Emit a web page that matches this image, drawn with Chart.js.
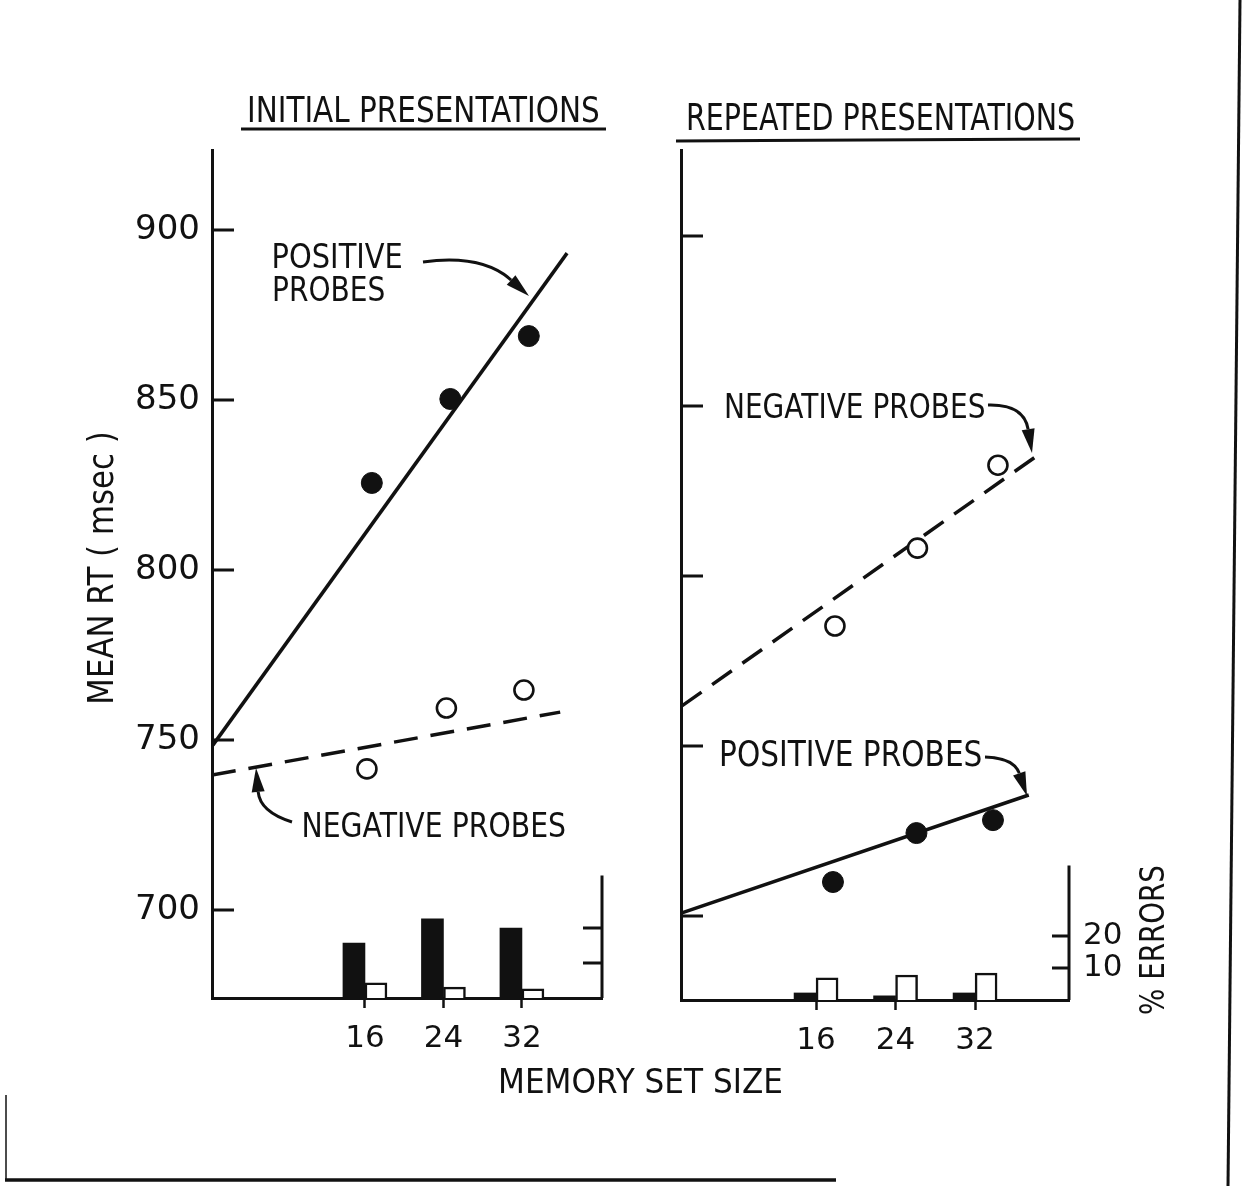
<!DOCTYPE html>
<html><head><meta charset="utf-8">
<script src="https://cdn.jsdelivr.net/npm/chart.js@4.4.1/dist/chart.umd.min.js"></script>
<style>
html,body{margin:0;padding:0;background:#fff;}
body{width:1243px;height:1186px;position:relative;overflow:hidden;font-family:"DejaVu Sans",sans-serif;color:#111;}
canvas{position:absolute;top:0;}
#c1{left:0;} #c2{left:640px;}
.lbl{position:absolute;white-space:nowrap;line-height:1;transform-origin:50% 50%;color:#111;}
svg{position:absolute;left:0;top:0;}
</style></head><body>
<canvas id="c1" width="640" height="1186"></canvas>
<canvas id="c2" width="603" height="1186"></canvas>
<svg id="ov" width="1243" height="1186"></svg>
<script>
// ---------- data ----------
const setSizes = [16, 24, 32];          // memory set size (x tick labels)
const rtTicks = [700, 750, 800, 850, 900];
const errTicks = [10, 20];

// Initial presentations
const initPosX  = [16.7, 24.7, 32.7];
const initPosRT = [825.6, 850.3, 868.8];
const initNegX  = [16.2, 24.3, 32.2];
const initNegRT = [741.5, 759.4, 764.7];
const initPosFitX  = [0.5, 36.6];
const initPosFitRT = [748.5, 893.2];
const initNegFitX  = [0.41, 35.9];
const initNegFitRT = [739.7, 758.2];
const initPosErr = [15.7, 22.6, 20.0];
const initNegErr = [4.3, 3.1, 2.6];

// Repeated presentations
const repPosX  = [17.7, 26.1, 33.8];
const repPosRT = [710.0, 724.4, 728.2];
const repNegX  = [17.9, 26.2, 34.3];
const repNegRT = [785.3, 808.2, 832.6];
const repPosFitX  = [2.5, 37.4];
const repPosFitRT = [700.9, 735.6];
const repNegFitX  = [2.5, 38.2];
const repNegFitRT = [761.8, 835.3];
const repPosErr = [2.2, 1.3, 2.2];
const repNegErr = [6.9, 7.8, 8.4];

// ---------- drawing ----------
const INK = '#111';
const FONT = '"DejaVu Sans", sans-serif';
const pts = (xs, ys) => xs.map((x, i) => ({x: x, y: ys[i]}));

function inwardTicks(items) {
  return {
    id: 'inwardTicks',
    afterDraw(chart) {
      const ctx = chart.ctx, a = chart.chartArea;
      ctx.save(); ctx.strokeStyle = INK; ctx.lineCap = 'butt';
      for (const it of items) {
        const s = chart.scales[it.scale];
        const x = it.side === 'left' ? a.left : a.right;
        ctx.lineWidth = 3;
        ctx.beginPath();
        if (it.line) { ctx.moveTo(x, s.getPixelForValue(it.line[0])); ctx.lineTo(x, s.getPixelForValue(it.line[1])); }
        for (const v of it.values) { const y = s.getPixelForValue(v); ctx.moveTo(x, y); ctx.lineTo(x + it.len, y); }
        ctx.stroke();
      }
      ctx.restore();
    }
  };
}

function panel(id, d) {
  return new Chart(document.getElementById(id), {
    type: 'scatter',
    data: { datasets: [
      { type: 'bar', data: pts(setSizes, d.posErr), yAxisID: 'yE', backgroundColor: INK, borderWidth: 0, barThickness: 22, order: 4 },
      { type: 'bar', data: pts(setSizes, d.negErr), yAxisID: 'yE', backgroundColor: '#fff', borderColor: INK, borderWidth: 2.5, barThickness: 22, order: 5 },
      { type: 'line', data: pts(d.posFitX, d.posFitRT), yAxisID: 'y', borderColor: INK, borderWidth: 3.5, pointRadius: 0, fill: false, order: 3 },
      { type: 'line', data: pts(d.negFitX, d.negFitRT), yAxisID: 'y', borderColor: INK, borderWidth: 3.5, borderDash: [24, 13], pointRadius: 0, fill: false, order: 2 },
      { type: 'scatter', data: pts(d.posX, d.posRT), yAxisID: 'y', pointRadius: 10.5, backgroundColor: INK, borderColor: INK, borderWidth: 1, order: 1 },
      { type: 'scatter', data: pts(d.negX, d.negRT), yAxisID: 'y', pointRadius: 9.5, backgroundColor: '#fff', borderColor: INK, borderWidth: 2.6, order: 0 }
    ]},
    options: {
      responsive: false, animation: false, devicePixelRatio: 1,
      layout: { padding: d.pad },
      plugins: { legend: { display: false }, tooltip: { enabled: false } },
      scales: {
        x: { type: 'linear', position: 'bottom', min: d.xMin, max: d.xMax, offset: false,
             afterBuildTicks: s => { s.ticks = setSizes.map(v => ({value: v})); },
             afterFit: s => { s.height = 70; },
             ticks: { color: INK, font: { family: FONT, size: 31 }, padding: 12, maxRotation: 0, autoSkip: false },
             grid: { display: true, drawOnChartArea: false, drawTicks: true, tickLength: 10, tickColor: INK, tickWidth: 2.5, offset: false },
             border: { display: true, color: INK, width: 3 } },
        y: { type: 'linear', position: 'left', min: d.yMin, max: d.yMax,
             afterBuildTicks: s => { s.ticks = rtTicks.map(v => ({value: v})); },
             afterFit: s => { s.width = d.yWidth; },
             ticks: { display: d.yLabels, color: INK, font: { family: FONT, size: 34 }, padding: 12 },
             grid: { display: false, drawTicks: false },
             border: { display: true, color: INK, width: 3 } },
        yE: { type: 'linear', position: 'right', min: 0, max: d.eMax,
             afterBuildTicks: s => { s.ticks = errTicks.map(v => ({value: v})); },
             afterFit: s => { s.width = d.eWidth; },
             ticks: { display: d.eLabels, color: INK, font: { family: FONT, size: 31 }, padding: 14 },
             grid: { display: false, drawTicks: false },
             border: { display: false } }
      }
    },
    plugins: [inwardTicks([
      { scale: 'y', side: 'left', values: rtTicks, len: 22 },
      { scale: 'yE', side: 'right', values: errTicks, len: -d.eTick, line: [0, d.eTop] }
    ])]
  });
}

panel('c1', {
  posX: initPosX, posRT: initPosRT, negX: initNegX, negRT: initNegRT,
  posFitX: initPosFitX, posFitRT: initPosFitRT, negFitX: initNegFitX, negFitRT: initNegFitRT,
  posErr: initPosErr, negErr: initNegErr,
  xMin: 0.41, xMax: 40.16, yMin: 674.12, yMax: 923.53, eMax: 242.3,
  yWidth: 212, eWidth: 0, yLabels: true, eLabels: false, eTick: 19, eTop: 35,
  pad: { top: 150, left: 0, right: 38, bottom: 118 }
});
panel('c2', {
  posX: repPosX, posRT: repPosRT, negX: repNegX, negRT: repNegRT,
  posFitX: repPosFitX, posFitRT: repPosFitRT, negFitX: repNegFitX, negFitRT: repNegFitRT,
  posErr: repPosErr, negErr: repNegErr,
  xMin: 2.41, xMax: 41.45, yMin: 675.3, yMax: 925.3, eMax: 265.6,
  yWidth: 41, eWidth: 174, yLabels: false, eLabels: true, eTick: 17, eTop: 42,
  pad: { top: 150, left: 0, right: 0, bottom: 116 }
});

// ---------- text ----------
const labels = [
  { t: 'INITIAL PRESENTATIONS', cx: 423, cy: 110, w: 353, fs: 36 },
  { t: 'REPEATED PRESENTATIONS', cx: 880, cy: 117, w: 389, fs: 38 },
  { t: 'POSITIVE', cx: 337, cy: 256, w: 131, fs: 34 },
  { t: 'PROBES', cx: 328, cy: 289, w: 113, fs: 34 },
  { t: 'NEGATIVE PROBES', cx: 434, cy: 825, w: 265, fs: 34 },
  { t: 'NEGATIVE PROBES', cx: 855, cy: 406, w: 262, fs: 34 },
  { t: 'POSITIVE PROBES', cx: 850, cy: 754, w: 263, fs: 35 },
  { t: 'MEMORY SET SIZE', cx: 640, cy: 1081, w: 285, fs: 34 },
  { t: 'MEAN RT ( msec )', cx: 100, cy: 568, w: 273, fs: 36, rot: -90 },
  { t: '% ERRORS', cx: 1152, cy: 940, w: 150, fs: 34, rot: -90 }
];
for (const L of labels) {
  const el = document.createElement('div');
  el.className = 'lbl';
  el.textContent = L.t;
  el.style.fontSize = L.fs + 'px';
  document.body.appendChild(el);
  const w = el.offsetWidth, h = el.offsetHeight;
  el.style.left = (L.cx - w / 2) + 'px';
  el.style.top = (L.cy - h / 2) + 'px';
  el.style.transform = 'rotate(' + (L.rot || 0) + 'deg) scaleX(' + (L.w / w) + ')';
}

// ---------- decorations: underlines, arrows, frame ----------
const NS = 'http://www.w3.org/2000/svg';
const ov = document.getElementById('ov');
function add(tag, attrs) { const e = document.createElementNS(NS, tag); for (const k in attrs) e.setAttribute(k, attrs[k]); ov.appendChild(e); return e; }
function line(x1, y1, x2, y2, w) { add('line', { x1, y1, x2, y2, stroke: INK, 'stroke-width': w }); }
line(241, 129, 606, 129, 3);
line(676, 141, 1080, 139, 3);
line(1240, 0, 1228, 1186, 3);
line(5, 1180, 836, 1180, 3.5);
line(6, 1095, 6, 1180, 1.5);

const arrows = [
  { p0: [423, 262], c: [482, 254], p1: [529, 296] },
  { p0: [292, 822], c: [260, 812], p1: [256, 768] },
  { p0: [988, 405], c: [1024, 404], p1: [1032, 453] },
  { p0: [985, 757], c: [1014, 758], p1: [1027, 796] }
];
for (const A of arrows) {
  const dx = A.p1[0] - A.c[0], dy = A.p1[1] - A.c[1];
  const L = Math.hypot(dx, dy), ux = dx / L, uy = dy / L;
  const hl = 24, hw = 6.5;
  const bx = A.p1[0] - ux * hl, by = A.p1[1] - uy * hl;
  add('path', { d: 'M' + A.p0[0] + ',' + A.p0[1] + ' Q' + A.c[0] + ',' + A.c[1] + ' ' + bx + ',' + by, fill: 'none', stroke: INK, 'stroke-width': 3 });
  add('polygon', { points: [A.p1[0] + ',' + A.p1[1], (bx - uy * hw) + ',' + (by + ux * hw), (bx + uy * hw) + ',' + (by - ux * hw)].join(' '), fill: INK });
}
</script></body></html>
